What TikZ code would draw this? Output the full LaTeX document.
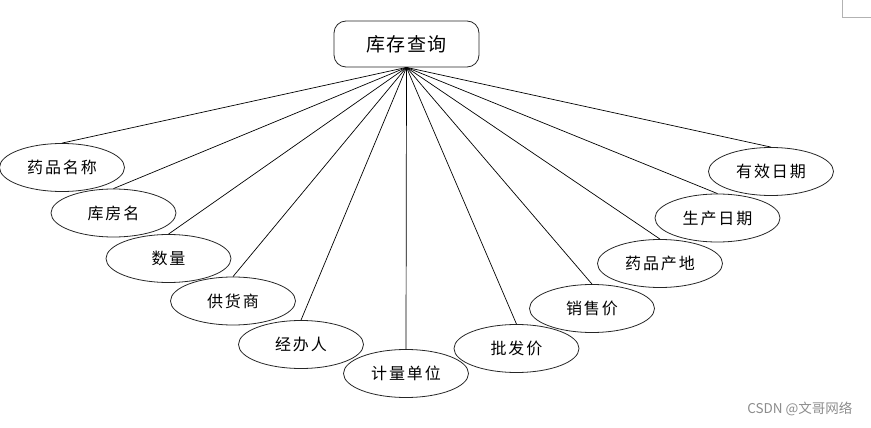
\documentclass[tikz,border=0pt]{standalone}
\usepackage{fontspec}
\newfontfamily\cjk{Noto Sans CJK SC}
\newfontfamily\cjkwide{Noto Sans CJK SC}[LetterSpace=12]
\newfontfamily\cjktitle{Noto Sans CJK SC}[LetterSpace=7]
\usetikzlibrary{shapes.geometric}
\tikzset{
  attr/.style={draw=black!85, line width=0.8pt, ellipse, minimum width=125pt, minimum height=48pt, inner sep=0pt, font=\cjkwide\fontsize{16}{17}\selectfont},
  entity/.style={draw=black!85, line width=0.8pt, rounded corners=12pt, minimum width=145pt, minimum height=46pt, inner sep=0pt, font=\cjktitle\fontsize{19}{20}\selectfont},
  link/.style={draw=black, line width=0.7pt},
  cornermark/.style={draw=black!30, line width=0.8pt}
}
\begin{document}
\begin{tikzpicture}[x=1pt,y=-1pt]
\useasboundingbox (0,0) rectangle (871,428);
\node[entity] (hub) at (406.5,44) {库存查询};
\node[attr] (a1) at (62,167.5) {药品名称};
\node[attr] (a2) at (113.5,213) {库房名};
\node[attr] (a3) at (168.5,258.5) {数量};
\node[attr] (a4) at (233,301) {供货商};
\node[attr] (a5) at (301,344.5) {经办人};
\node[attr] (a6) at (406,373.5) {计量单位};
\node[attr] (a7) at (516.5,348.5) {批发价};
\node[attr] (a8) at (592,308.5) {销售价};
\node[attr] (a9) at (660,263.5) {药品产地};
\node[attr] (a10) at (717.5,218) {生产日期};
\node[attr] (a11) at (771,171.5) {有效日期};
\foreach \i in {1,...,11} {\draw[link] (hub.south) -- (a\i.north);}
\node[font=\cjk\fontsize{13.5}{14}\selectfont, text=black!45, anchor=east] (wm) at (856,409) {CSDN @文哥网络};
\coordinate (c1) at (842,0);
\coordinate (c2) at (842,17);
\coordinate (c3) at (871,17);
\draw[cornermark] (c1) -- (c2) -- (c3);
\end{tikzpicture}
\end{document}
